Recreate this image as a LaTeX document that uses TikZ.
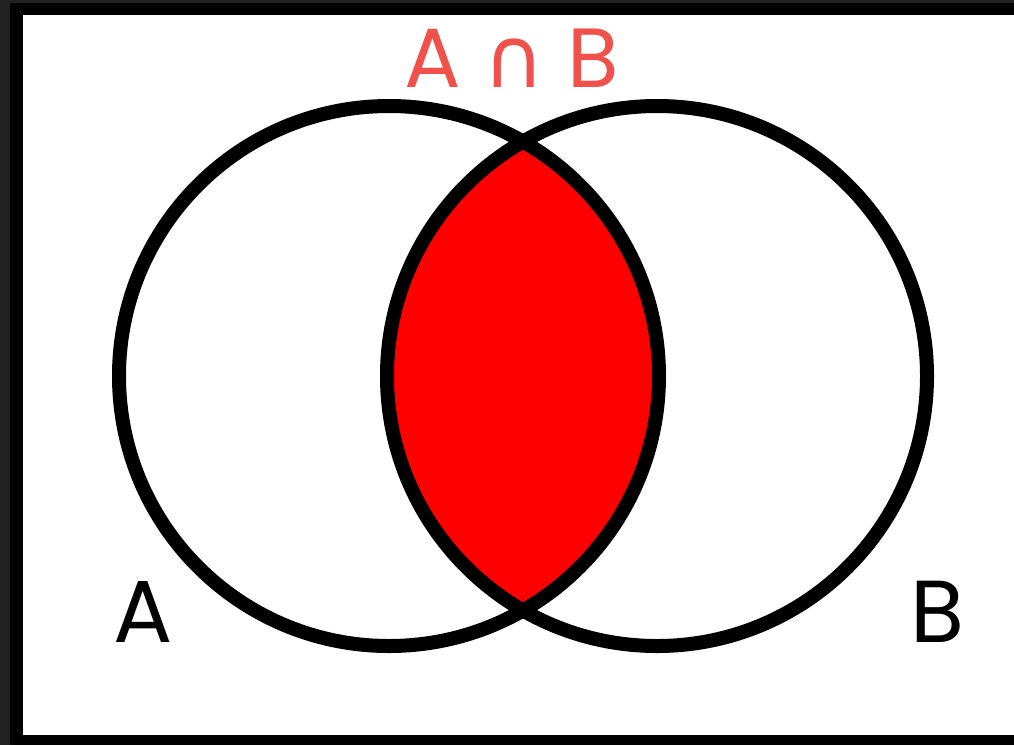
\documentclass[tikz,border=0pt]{standalone}
\usepackage{fontspec}
\setmainfont{Poppins}
\newfontfamily\symfont{DejaVu Sans}
\definecolor{frameouter}{HTML}{222222}
\definecolor{labelred}{HTML}{F0524B}
\definecolor{lensred}{HTML}{FF0000}
\begin{document}
\begin{tikzpicture}[x=1pt,y=-1pt,
  setcircle/.style={draw=black,line width=14pt},
  biglabel/.style={anchor=base,inner sep=0pt,font=\fontsize{88}{88}\selectfont},
  titlelabel/.style={anchor=base,inner sep=0pt,font=\fontsize{84}{84}\selectfont}]
\useasboundingbox (0,0) rectangle (1014,745);
\fill[frameouter] (0,0) rectangle (1014,745);
\fill[black] (10,3) rectangle (1014,745);
\fill[white] (23,15) rectangle (1014,735);
\coordinate (ca) at (389,376);
\coordinate (cb) at (657,376);
\begin{scope}
  \clip (ca) circle (270);
  \fill[lensred] (cb) circle (270);
\end{scope}
\draw[setcircle] (ca) circle (270);
\draw[setcircle] (cb) circle (270);
\node[titlelabel,text=labelred] (ab) at (512,87) {A {\symfont ∩} B};
\node[biglabel] (la) at (143.5,642) {A};
\node[biglabel] (lb) at (937.5,642) {B};
\end{tikzpicture}
\end{document}
